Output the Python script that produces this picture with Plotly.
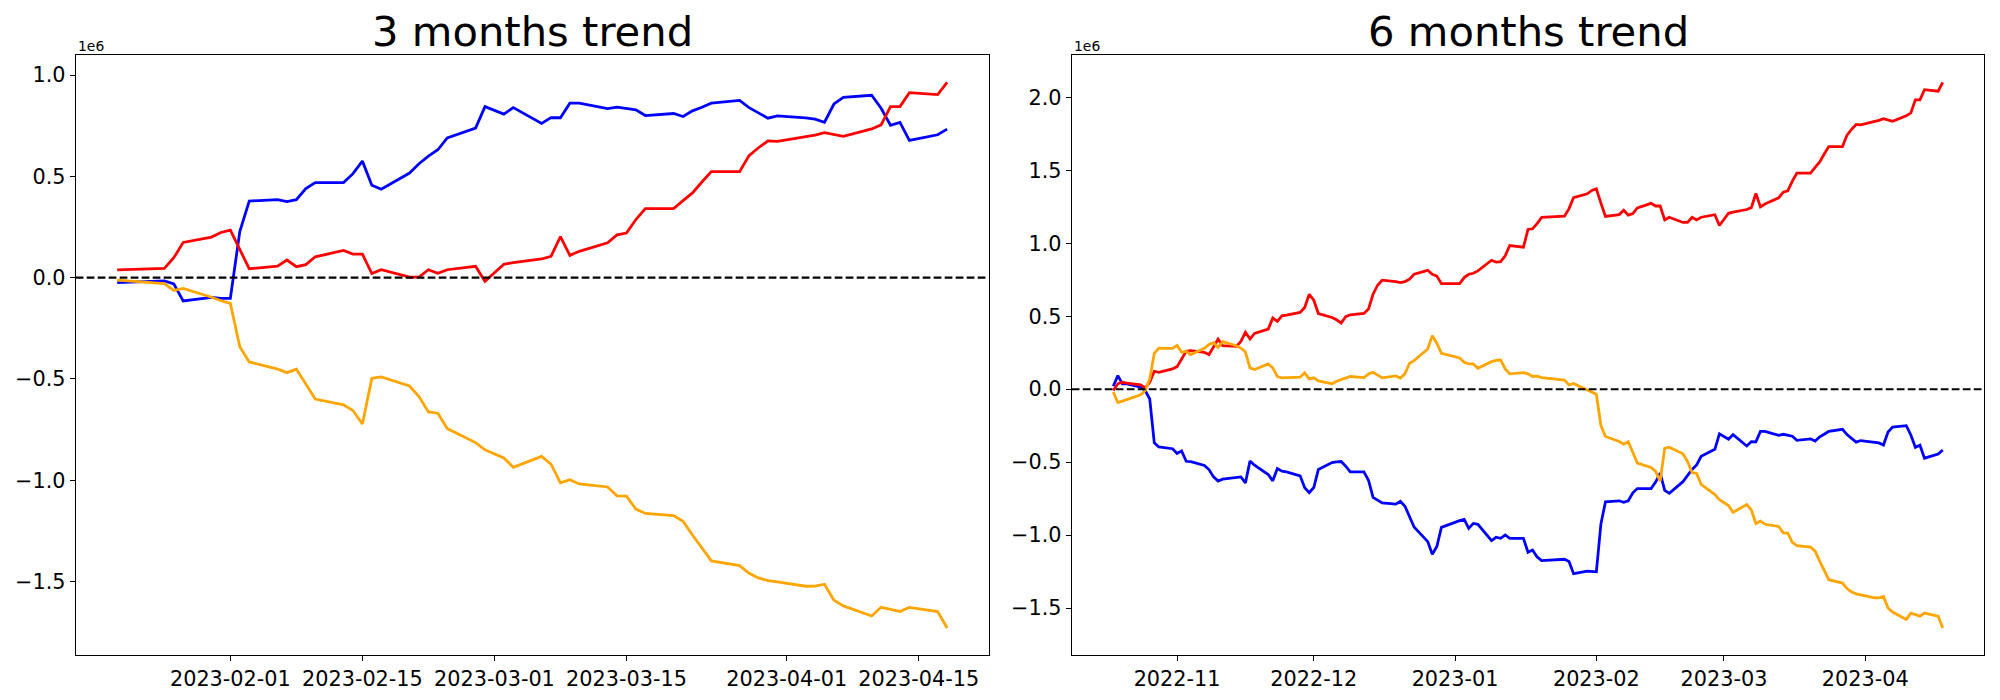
import pandas as pd
import plotly.graph_objects as go

# ---------------- data (values in units of 1e6) ----------------
KRX_HOLIDAYS = ["2022-12-30", "2023-01-23", "2023-01-24", "2023-03-01"]


def trading_days(start, end):
    d = pd.bdate_range(start, end)
    d = d[~d.isin(pd.to_datetime(KRX_HOLIDAYS))]
    return list(d)


dates_3m = trading_days("2023-01-20", "2023-04-18")
dates_6m = trading_days("2022-10-18", "2023-04-18")

blue_3m = [
    -0.025, -0.016, -0.031, -0.115, -0.097, -0.102,
    -0.102, 0.227, 0.378, 0.385, 0.375, 0.385, 0.440, 0.469, 0.469, 0.513,
    0.575, 0.456, 0.436, 0.516, 0.562, 0.600, 0.631, 0.690, 0.738, 0.844,
    0.807, 0.839, 0.761, 0.790, 0.789, 0.861, 0.861, 0.834, 0.841, 0.833,
    0.828, 0.800, 0.810, 0.795, 0.823, 0.841, 0.861, 0.875, 0.839, 0.813, 0.787, 0.798,
    0.789, 0.782, 0.767, 0.857, 0.890, 0.900, 0.836, 0.752, 0.766, 0.677, 0.705, 0.733,
]
red_3m = [
    0.038, 0.046, 0.098, 0.174, 0.200, 0.223,
    0.234, 0.136, 0.044, 0.057, 0.087, 0.054, 0.064, 0.103, 0.134, 0.116,
    0.116, 0.020, 0.039, 0.003, 0.003, 0.039, 0.021, 0.039, 0.056, -0.018,
    0.066, 0.074, 0.092, 0.105, 0.202, 0.110, 0.130, 0.172, 0.211, 0.220,
    0.287, 0.341, 0.341, 0.380, 0.418, 0.472, 0.523, 0.523, 0.602, 0.641, 0.675, 0.672,
    0.693, 0.703, 0.715, 0.707, 0.697, 0.734, 0.754, 0.844, 0.844, 0.913, 0.903, 0.964,
]
orange_3m = [
    -0.012, -0.030, -0.063, -0.053, -0.097, -0.114,
    -0.127, -0.341, -0.416, -0.451, -0.469, -0.452, -0.525, -0.599, -0.628, -0.656,
    -0.722, -0.497, -0.490, -0.535, -0.587, -0.663, -0.669, -0.745, -0.814, -0.850,
    -0.890, -0.936, -0.882, -0.920, -1.013, -0.997, -1.018, -1.033, -1.077, -1.078,
    -1.142, -1.164, -1.174, -1.202, -1.270, -1.336, -1.398, -1.421, -1.459, -1.482, -1.495, -1.502,
    -1.523, -1.522, -1.513, -1.592, -1.620, -1.670, -1.627, -1.637, -1.648, -1.627, -1.648, -1.729,
]

blue_6m = [
    # Oct
    0.020, 0.093, 0.037, 0.037, 0.014, -0.009, -0.066, -0.368, -0.396, -0.408,
    # Nov
    -0.441, -0.423, -0.494, -0.497, -0.523, -0.551, -0.601, -0.630, -0.617, -0.603,
    -0.601, -0.642, -0.492, -0.521, -0.585, -0.628, -0.544, -0.562, -0.567, -0.594,
    -0.676, -0.710,
    # Dec
    -0.674, -0.550, -0.503, -0.498, -0.496, -0.528, -0.567, -0.567, -0.624, -0.742,
    -0.761, -0.779, -0.788, -0.768, -0.802, -0.880, -0.945, -1.045, -1.131, -1.079, -0.947,
    # Jan
    -0.901, -0.892, -0.954, -0.920, -0.926, -1.038, -1.015, -1.022, -0.999, -1.022,
    -1.022, -1.118, -1.102, -1.150,
    -1.175, -1.166, -1.181, -1.265, -1.247, -1.252,
    # Feb
    -1.252, -0.923, -0.772, -0.765, -0.775, -0.765, -0.710, -0.681, -0.681, -0.637,
    -0.575, -0.694, -0.714, -0.634, -0.588, -0.550, -0.519, -0.460, -0.412, -0.306,
    # Mar
    -0.343, -0.311, -0.389, -0.360, -0.361, -0.289, -0.289, -0.316, -0.309, -0.317,
    -0.322, -0.350, -0.340, -0.355, -0.327, -0.309, -0.289, -0.275, -0.311, -0.337,
    -0.363, -0.352,
    # Apr
    -0.361, -0.368, -0.383, -0.293, -0.260, -0.250, -0.314, -0.398, -0.384, -0.473,
    -0.445, -0.417,
]
red_6m = [
    -0.009, 0.037, 0.048, 0.041, 0.030, 0.009, 0.048, 0.123, 0.116, 0.139,
    0.155, 0.207, 0.260, 0.264, 0.253, 0.237, 0.287, 0.344, 0.298, 0.294,
    0.328, 0.390, 0.344, 0.383, 0.412, 0.488, 0.465, 0.503, 0.508, 0.526,
    0.560, 0.651,
    0.610, 0.519, 0.492, 0.476, 0.453, 0.497, 0.510, 0.519, 0.549, 0.651,
    0.713, 0.747, 0.738, 0.731, 0.738, 0.754, 0.788, 0.815, 0.788, 0.776, 0.724,
    0.724, 0.765, 0.788, 0.795, 0.811, 0.884, 0.872, 0.875, 0.915, 0.985,
    0.974, 1.095, 1.100, 1.135,
    1.178, 1.186, 1.238, 1.314, 1.340, 1.363,
    1.374, 1.276, 1.184, 1.197, 1.227, 1.194, 1.204, 1.243, 1.274, 1.256,
    1.256, 1.160, 1.179, 1.143, 1.143, 1.179, 1.161, 1.179, 1.196, 1.122,
    1.206, 1.214, 1.232, 1.245, 1.342, 1.250, 1.270, 1.312, 1.351, 1.360,
    1.427, 1.481, 1.481, 1.520, 1.558, 1.612, 1.663, 1.663, 1.742, 1.781,
    1.815, 1.812,
    1.833, 1.843, 1.855, 1.847, 1.837, 1.874, 1.894, 1.984, 1.984, 2.053,
    2.043, 2.104,
]
orange_6m = [
    -0.020, -0.091, -0.082, -0.071, -0.039, -0.010, 0.070, 0.246, 0.282, 0.280,
    0.300, 0.253, 0.260, 0.237, 0.280, 0.307, 0.319, 0.287, 0.326, 0.298,
    0.282, 0.255, 0.146, 0.135, 0.173, 0.146, 0.087, 0.078, 0.078, 0.082,
    0.112, 0.071,
    0.078, 0.057, 0.037, 0.055, 0.066, 0.078, 0.087, 0.080, 0.105, 0.116,
    0.094, 0.078, 0.091, 0.076, 0.105, 0.178, 0.196, 0.276, 0.367, 0.315, 0.246,
    0.214, 0.184, 0.173, 0.173, 0.143, 0.189, 0.198, 0.200, 0.139, 0.105,
    0.114, 0.105, 0.087, 0.089,
    0.080, 0.062, 0.029, 0.039, -0.005, -0.022,
    -0.035, -0.249, -0.324, -0.359, -0.377, -0.360, -0.433, -0.507, -0.536, -0.564,
    -0.630, -0.405, -0.398, -0.443, -0.495, -0.571, -0.577, -0.653, -0.722, -0.758,
    -0.798, -0.844, -0.790, -0.828, -0.921, -0.905, -0.926, -0.941, -0.985, -0.986,
    -1.050, -1.072, -1.082, -1.110, -1.178, -1.244, -1.306, -1.329, -1.367, -1.390,
    -1.403, -1.410,
    -1.431, -1.430, -1.421, -1.500, -1.528, -1.578, -1.535, -1.545, -1.556, -1.535,
    -1.556, -1.637,
]

titles = ["3 months trend", "6 months trend"]
xtick_vals_3m = ["2023-02-01", "2023-02-15", "2023-03-01", "2023-03-15", "2023-04-01", "2023-04-15"]
xtick_text_3m = ["2023-02-01", "2023-02-15", "2023-03-01", "2023-03-15", "2023-04-01", "2023-04-15"]
xtick_vals_6m = ["2022-11-01", "2022-12-01", "2023-01-01", "2023-02-01", "2023-03-01", "2023-04-01"]
xtick_text_6m = ["2022-11", "2022-12", "2023-01", "2023-02", "2023-03", "2023-04"]
ytick_vals_3m = [-1.5, -1.0, -0.5, 0.0, 0.5, 1.0]
ytick_vals_6m = [-1.5, -1.0, -0.5, 0.0, 0.5, 1.0, 1.5, 2.0]
scale_label = "1e6"

assert len(dates_3m) == len(blue_3m) == len(red_3m) == len(orange_3m)
assert len(dates_6m) == len(blue_6m) == len(red_6m) == len(orange_6m)

# ---------------- styling ----------------
FONT = "DejaVu Sans"
LW = 2.78
DASH_LW = 2.08
COLORS = {"blue": "#0000ff", "red": "#ff0000", "orange": "#ffa500"}

dom_x1 = [0.03785, 0.4943]
dom_x2 = [0.5359, 0.9921]
dom_y = [0.0639, 0.9214]


def pad_dates(d):
    lo, hi = d[0], d[-1]
    m = (hi - lo) * 0.05
    return [(lo - m).isoformat(), (hi + m).isoformat()]


def pad_vals(*series):
    vals = [v for s in series for v in s]
    lo, hi = min(vals), max(vals)
    m = (hi - lo) * 0.05
    return [lo - m, hi + m]


fig = go.Figure()
for name, ser in [("blue", blue_3m), ("red", red_3m), ("orange", orange_3m)]:
    fig.add_trace(go.Scatter(x=dates_3m, y=ser, mode="lines",
                             line=dict(color=COLORS[name], width=LW),
                             xaxis="x", yaxis="y", showlegend=False))
for name, ser in [("blue", blue_6m), ("red", red_6m), ("orange", orange_6m)]:
    fig.add_trace(go.Scatter(x=dates_6m, y=ser, mode="lines",
                             line=dict(color=COLORS[name], width=LW),
                             xaxis="x2", yaxis="y2", showlegend=False))

axis_common = dict(showline=True, mirror=True, linecolor="black", linewidth=1.1,
                   ticks="outside", ticklen=5, tickwidth=1.1, tickcolor="black",
                   showgrid=False, zeroline=False,
                   tickfont=dict(family=FONT, size=20.8, color="black"))

fig.update_layout(
    width=2000, height=700,
    margin=dict(l=0, r=0, t=0, b=0),
    paper_bgcolor="white", plot_bgcolor="white",
    font=dict(family=FONT, color="black"),
    showlegend=False,
    xaxis=dict(domain=dom_x1, anchor="y", type="date", range=pad_dates(dates_3m),
               tickvals=xtick_vals_3m, ticktext=xtick_text_3m, **axis_common),
    yaxis=dict(domain=dom_y, anchor="x", range=pad_vals(blue_3m, red_3m, orange_3m),
               tickvals=ytick_vals_3m, tickformat=".1f", **axis_common),
    xaxis2=dict(domain=dom_x2, anchor="y2", type="date", range=pad_dates(dates_6m),
                tickvals=xtick_vals_6m, ticktext=xtick_text_6m, **axis_common),
    yaxis2=dict(domain=dom_y, anchor="x2", range=pad_vals(blue_6m, red_6m, orange_6m),
                tickvals=ytick_vals_6m, tickformat=".1f", **axis_common),
)

for xr, yr in [("x domain", "y"), ("x2 domain", "y2")]:
    fig.add_shape(type="line", xref=xr, yref=yr, x0=0, x1=1, y0=0, y1=0,
                  line=dict(color="black", width=DASH_LW, dash="7.7px,3.3px"), layer="above")

for dom, title in [(dom_x1, titles[0]), (dom_x2, titles[1])]:
    fig.add_annotation(text=title, xref="paper", yref="paper",
                       x=(dom[0] + dom[1]) / 2, y=dom_y[1], xanchor="center", yanchor="bottom",
                       yshift=-3, showarrow=False,
                       font=dict(family=FONT, size=41.7, color="black"))
    fig.add_annotation(text=scale_label, xref="paper", yref="paper",
                       x=dom[0], y=dom_y[1], xanchor="left", yanchor="bottom",
                       yshift=-1, showarrow=False,
                       font=dict(family=FONT, size=13.9, color="black"))

fig.write_html("out.html", config={"displayModeBar": False},
               post_script="document.body.style.margin='0';")
